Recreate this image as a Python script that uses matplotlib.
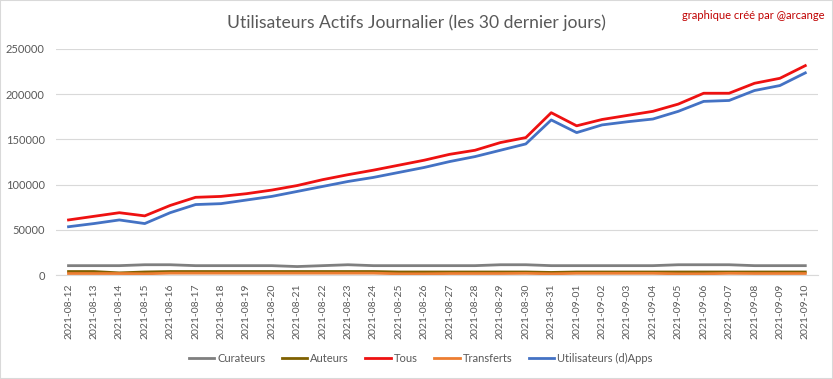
import matplotlib
import matplotlib.pyplot as plt
from matplotlib import patches

matplotlib.use('Agg')
plt.rcParams['font.family'] = ['Lato', 'DejaVu Sans']

dates = ['2021-08-12', '2021-08-13', '2021-08-14', '2021-08-15', '2021-08-16',
         '2021-08-17', '2021-08-18', '2021-08-19', '2021-08-20', '2021-08-21',
         '2021-08-22', '2021-08-23', '2021-08-24', '2021-08-25', '2021-08-26',
         '2021-08-27', '2021-08-28', '2021-08-29', '2021-08-30', '2021-08-31',
         '2021-09-01', '2021-09-02', '2021-09-03', '2021-09-04', '2021-09-05',
         '2021-09-06', '2021-09-07', '2021-09-08', '2021-09-09', '2021-09-10']

curateurs = [10500, 10500, 10500, 11500, 11500, 10500, 10500, 10500, 10500, 9500,
             10500, 11500, 10500, 10500, 10500, 10500, 10500, 11500, 11500, 10500,
             10500, 10500, 10500, 10500, 11500, 11500, 11500, 10500, 10500, 10500]
auteurs = [4000, 4000, 2500, 3500, 4000, 4000, 4000, 4000, 4000, 4000,
           4000, 4000, 4000, 3500, 3500, 3500, 3500, 3500, 3500, 3000,
           3500, 3500, 3500, 3500, 3500, 3500, 3500, 3500, 3500, 3500]
tous = [61000, 65000, 69000, 65500, 77000, 86000, 87000, 90000, 94000, 99000,
        105500, 111000, 116000, 121500, 127000, 133500, 138000, 146500, 152000, 179500,
        165000, 172000, 176500, 181000, 189000, 201000, 201000, 212000, 217500, 231500]
transferts = [1800, 1800, 1800, 1500, 2200, 2200, 2200, 2200, 2200, 2200,
              2200, 2200, 2200, 1500, 1500, 1800, 1800, 1800, 2000, 1500,
              2000, 2000, 2000, 2000, 1500, 1500, 2000, 1800, 1800, 1800]
dapps = [53500, 57000, 61000, 57000, 69000, 78000, 79000, 83000, 87000, 92500,
         98000, 103500, 108000, 113500, 119000, 125500, 131000, 138000, 145000, 171500,
         157500, 166000, 169500, 172500, 181000, 192000, 193000, 204000, 209500, 223500]

fig = plt.figure(figsize=(8.33, 3.79), dpi=100)
ax = fig.add_axes([0.067, 0.274, 0.915, 0.597])

x = range(len(dates))
ax.plot(x, curateurs, color='#7f7f7f', lw=2, label='Curateurs')
ax.plot(x, auteurs, color='#7f6000', lw=2, label='Auteurs')
ax.plot(x, tous, color='#ee1111', lw=2, label='Tous')
ax.plot(x, transferts, color='#ed7d31', lw=2, label='Transferts')
ax.plot(x, dapps, color='#4472c4', lw=2, label='Utilisateurs (d)Apps')

ax.set_xlim(-0.5, len(dates) - 0.5)
ax.set_ylim(0, 250000)
ax.set_yticks(range(0, 250001, 50000))
ax.set_xticks(list(x))
ax.set_xticklabels(dates, rotation=90, fontsize=7.5, color='#595959')
ax.tick_params(axis='y', labelsize=8, colors='#595959', length=0, pad=8)
ax.tick_params(axis='x', length=0, pad=6)
ax.grid(axis='y', color='#d9d9d9', lw=0.8)
ax.set_axisbelow(True)
for s in ['top', 'right', 'left']:
    ax.spines[s].set_visible(False)
ax.spines['bottom'].set_color('#d9d9d9')

fig.text(0.5, 0.94, 'Utilisateurs Actifs Journalier (les 30 dernier jours)',
         ha='center', va='center', fontsize=12.6, color='#595959')
fig.text(0.99, 0.96, 'graphique créé par @arcange', ha='right', va='center',
         fontsize=8, color='#c00000')

fig.legend(loc='center', bbox_to_anchor=(0.505, 0.055), ncol=5, frameon=False,
           fontsize=8, handlelength=2.3, columnspacing=1.5, handletextpad=0.25,
           labelcolor='#595959')

fig.add_artist(patches.Rectangle((0, 0), 1, 1, transform=fig.transFigure,
                                 fill=False, edgecolor='#d9d9d9', lw=1.5))

fig.savefig('out.png', dpi=100)
